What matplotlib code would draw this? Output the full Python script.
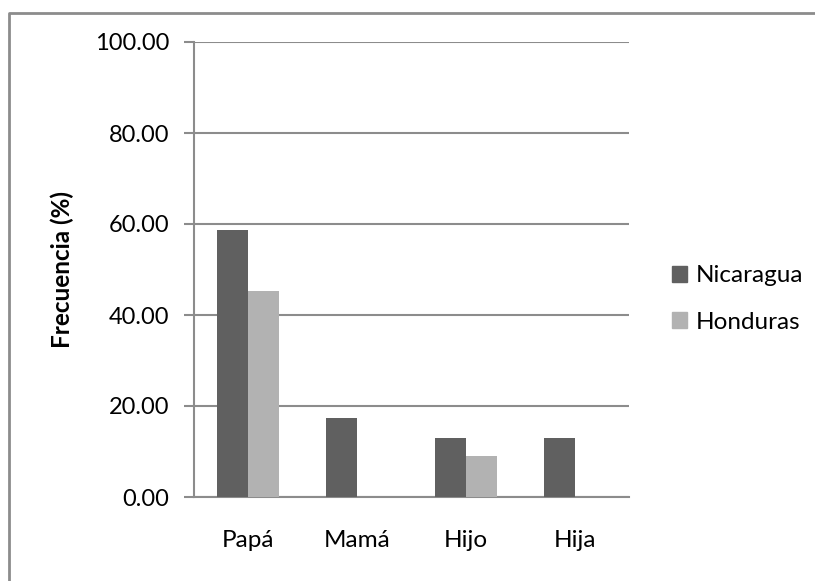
import matplotlib.pyplot as plt
from matplotlib.patches import Patch
from matplotlib.lines import Line2D
import numpy as np

categories = ["Papá", "Mamá", "Hijo", "Hija"]
series_names = ["Nicaragua", "Honduras"]
nicaragua = [58.7, 17.4, 13.0, 13.0]
honduras = [45.3, 0.0, 9.0, 0.0]
y_ticks = [0, 20, 40, 60, 80, 100]

colors = ["#606060", "#b2b2b2"]
grid_color = "#8c8c8c"

plt.rcParams['font.family'] = ['Lato', 'DejaVu Sans']

fig = plt.figure(figsize=(8.15, 5.81), dpi=100)
ax = fig.add_axes([194 / 815, 1 - 497 / 581, 435 / 815, 455 / 581])

x = np.arange(len(categories))
w = 1 / 3.5
ax.bar(x - w / 2, nicaragua, w, color=colors[0], zorder=3)
ax.bar(x + w / 2, honduras, w, color=colors[1], zorder=3)

ax.set_xlim(-0.5, len(categories) - 0.5)
ax.set_ylim(0, 100)
ax.set_yticks(y_ticks)
ax.set_yticklabels(["{0:.2f}".format(v) for v in y_ticks], fontsize=17)
ax.set_xticks(x)
ax.set_xticklabels(categories, fontsize=17.5)
ax.tick_params(axis='x', length=0, pad=24)
ax.tick_params(axis='y', length=7, width=1.5, color=grid_color, pad=11)
ax.yaxis.grid(True, color=grid_color, linewidth=1.5, zorder=0)
for side in ["top", "right"]:
    ax.spines[side].set_visible(False)
ax.spines["left"].set_color(grid_color)
ax.spines["left"].set_linewidth(1.5)
ax.spines["bottom"].set_color(grid_color)
ax.spines["bottom"].set_linewidth(1.5)

ax.set_ylabel("Frecuencia (%)", fontsize=17.5, fontweight="bold", labelpad=15)

handles = [Patch(color=c, label=n) for c, n in zip(colors, series_names)]
fig.legend(handles=handles, loc="center left", bbox_to_anchor=(650 / 815, 1 - 299 / 581),
           frameon=False, fontsize=17.5, handlelength=0.62, handleheight=0.62,
           handletextpad=0.37, labelspacing=1.05)

# outer chart frame (left and top edges visible)
fx = 9 / 815
fy = 1 - 13 / 581
fig.add_artist(Line2D([fx, fx, 1], [0, fy, fy], transform=fig.transFigure,
                      color=grid_color, linewidth=2))

fig.savefig("out.png", dpi=100)
